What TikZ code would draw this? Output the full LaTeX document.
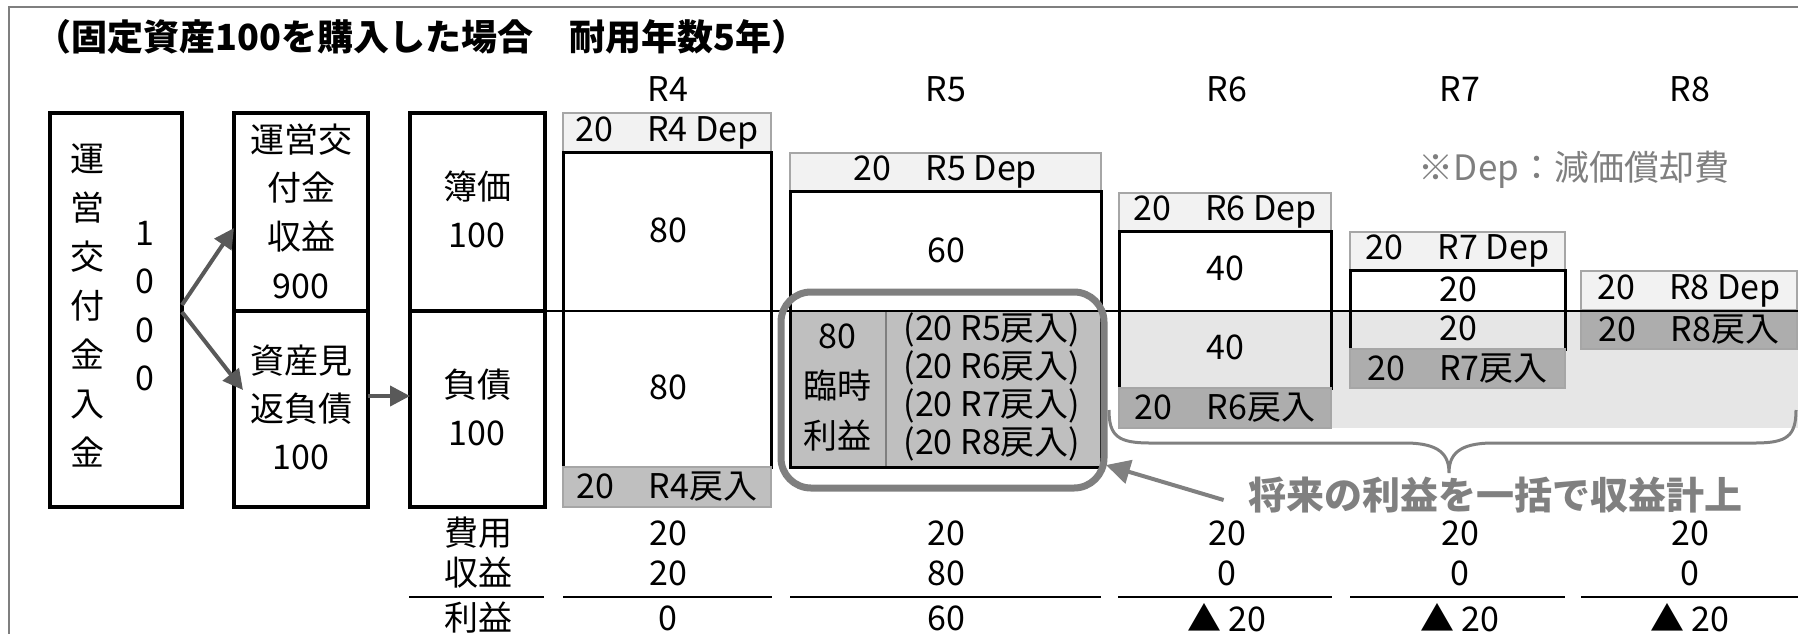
\documentclass[tikz,border=0pt]{standalone}
\usepackage{fontspec}
\setmainfont{Noto Sans CJK JP}
\usetikzlibrary{fit,arrows.meta}
\definecolor{frameG}{HTML}{7F7F7F}
\definecolor{arrG}{HTML}{595959}
\definecolor{depFill}{HTML}{F2F2F2}
\definecolor{depLine}{HTML}{A6A6A6}
\definecolor{modFill}{HTML}{BFBFBF}
\definecolor{modFillB}{HTML}{ADADAD}
\definecolor{bandFill}{HTML}{E6E6E6}
\definecolor{capG}{HTML}{808080}
\tikzset{
  t/.style={font=\fontsize{17pt}{20pt}\selectfont, inner sep=0pt},
  box/.style={draw=black, line width=1.8pt, inner sep=0pt, outer sep=0pt},
  colbox/.style={draw=black, line width=1.5pt, inner sep=0pt, outer sep=0pt},
  depbox/.style={draw=depLine, line width=1.2pt, fill=depFill, inner sep=0pt, outer sep=0pt},
  modbox/.style={draw=depLine, line width=1.2pt, fill=modFill, inner sep=0pt, outer sep=0pt},
  modboxb/.style={modbox, fill=modFillB},
  garrow/.style={draw=arrG, line width=2pt, -{Triangle[length=10pt,width=10pt]}},
  tline/.style={draw=black, line width=1.4pt},
}
\begin{document}
\begin{tikzpicture}[x=0.5pt,y=-0.5pt]
\useasboundingbox (0,0) rectangle (1798,633);
% frame
\draw[frameG, line width=1.2pt] (9,640) -- (9,7) -- (1800,7);
% title
\node[t, font=\bfseries\fontsize{18pt}{20pt}\selectfont, anchor=west] (title) at (35,37) {（固定資産100を購入した場合　耐用年数5年）};
% headers
\node[t] (h4) at (668,89) {R4};
\node[t] (h5) at (946,89) {R5};
\node[t] (h6) at (1227,89) {R6};
\node[t] (h7) at (1460,89) {R7};
\node[t] (h8) at (1690,89) {R8};
% left boxes
\node[box, fit={(50,113) (182,507)}] (b1) {};
\node[box, fit={(234,113) (368,311)}] (b2u) {};
\node[box, fit={(234,311) (368,507)}] (b2l) {};
\node[box, fit={(410,113) (545,311)}] (b3u) {};
\node[box, fit={(410,311) (545,507)}] (b3l) {};
\node[t, align=center, font=\fontsize{17pt}{24.5pt}\selectfont] (b1t) at (87,305.5) {運\\営\\交\\付\\金\\入\\金};
\node[t, align=center, font=\fontsize{17pt}{24.2pt}\selectfont] (b1n) at (145,306) {1\\0\\0\\0};
\node[t, align=center, font=\fontsize{17pt}{24.3pt}\selectfont] (b2ut) at (301,211) {運営交\\付金\\収益\\900};
\node[t, align=center, font=\fontsize{17pt}{24pt}\selectfont] (b2lt) at (301,407) {資産見\\返負債\\100};
\node[t, align=center, font=\fontsize{17pt}{24pt}\selectfont] (b3ut) at (477,209) {簿価\\100};
\node[t, align=center, font=\fontsize{17pt}{24pt}\selectfont] (b3lt) at (477,407) {負債\\100};
% arrows
\draw[garrow] ([yshift=2.5pt]b1.east) -- ([yshift=-8pt]b2u.west);
\draw[garrow] ([yshift=-1pt]b1.east) -- ([xshift=4.5pt,yshift=9.5pt]b2l.west);
\draw[garrow] ([yshift=6.5pt]b2l.east) -- ([yshift=6.5pt]b3l.west);
% band
\node[fill=bandFill, inner sep=0pt, outer sep=0pt, fit={(1119,311) (1798,428)}] (band) {};
% R4
\node[depbox, fit={(563,113) (771,152)}] (r4d) {};
\node[colbox, fit={(563,152) (771,467)}] (r4m) {};
\node[modbox, fit={(563,467) (771,507)}] (r4r) {};
\node[t] (r4dt) at (r4d.center) {20　R4 Dep};
\node[t] (r4rt) at (r4r.center) {20　R4戻入};
\node[t] (r4a) at (668,230) {80};
\node[t] (r4b) at (668,387) {80};
% R5
\node[depbox, fit={(790,153) (1101,191)}] (r5d) {};
\node[t] (r5dt) at (r5d.center) {20　R5 Dep};
\node[fill=modFill, inner sep=0pt, outer sep=0pt, fit={(790,311) (886,467)}] (r5ll) {};
\node[fill=modFill, inner sep=0pt, outer sep=0pt, fit={(886,311) (1101,467)}] (r5lr) {};
\draw[draw=frameG, line width=0.8pt] (r5ll.north east) -- (r5ll.south east);
\node[colbox, fit={(790,191) (1101,467)}] (r5m) {};
\node[t] (r5a) at (946,250) {60};
\node[t, align=center, font=\fontsize{17pt}{25pt}\selectfont] (r5lt) at (837,388) {80\\臨時\\利益};
\node[t, align=center, font=\fontsize{17pt}{19pt}\selectfont] (r5rt) at (992,387) {(20 R5戻入)\\(20 R6戻入)\\(20 R7戻入)\\(20 R8戻入)};
% R6
\node[depbox, fit={(1119,193) (1331,231)}] (r6d) {};
\node[colbox, fit={(1119,231) (1331,388)}] (r6m) {};
\node[modboxb, fit={(1119,388) (1331,428)}] (r6r) {};
\node[t] (r6dt) at (r6d.center) {20　R6 Dep};
\node[t] (r6rt) at (r6r.center) {20　R6戻入};
\node[t] (r6a) at (1225,268) {40};
\node[t] (r6b) at (1225,347) {40};
% R7
\node[depbox, fit={(1350,232) (1565,270)}] (r7d) {};
\node[colbox, fit={(1350,270) (1565,349)}] (r7m) {};
\node[modboxb, fit={(1350,349) (1565,388)}] (r7r) {};
\node[t] (r7dt) at (r7d.center) {20　R7 Dep};
\node[t] (r7rt) at (r7r.center) {20　R7戻入};
\node[t] (r7a) at (1458,289) {20};
\node[t] (r7b) at (1458,328) {20};
% R8
\node[depbox, fit={(1581,271) (1797,310)}] (r8d) {};
\node[modboxb, fit={(1581,310) (1797,349)}] (r8r) {};
\node[t] (r8dt) at (r8d.center) {20　R8 Dep};
\node[t] (r8rt) at (r8r.center) {20　R8戻入};
% long horizontal line
\coordinate (lineend) at (1798,311);
\draw[line width=1.4pt] (b3u.south east) -- (lineend);
% rounded highlight
\node[draw=frameG, line width=3.5pt, rounded corners=15pt, inner sep=0pt, outer sep=0pt, fit={(781,292) (1104,488)}] (rr) {};
% note
\node[t, text=frameG, font=\fontsize{17.5pt}{20pt}\selectfont] (note) at (1574,170) {※Dep：減価償却費};
% brace
\draw[capG, line width=1.5pt] (1109,410) .. controls (1109,436) and (1118,443) .. (1150,443) -- (1405,443) .. controls (1440,443) and (1449,455) .. (1449,473) .. controls (1449,455) and (1458,443) .. (1493,443) -- (1755,443) .. controls (1787,443) and (1796,436) .. (1796,410);
% caption
\node[t, font=\bfseries\fontsize{19pt}{22pt}\selectfont, text=capG] (cap) at (1495,495) {将来の利益を一括で収益計上};
\draw[capG, line width=2pt, -{Triangle[length=12pt,width=12pt]}] ([xshift=-12pt,yshift=-2.5pt]cap.west) -- ([xshift=1pt,yshift=-37.5pt]rr.east);
% table
\node[t] (l1) at (478,533) {費用};
\node[t] (l2) at (478,573) {収益};
\node[t] (l3) at (478,618) {利益};
\node[t] (v41) at (668,533) {20};
\node[t] (v42) at (668,573) {20};
\node[t] (v43) at (668,618) {0};
\node[t] (v51) at (946,533) {20};
\node[t] (v52) at (946,573) {80};
\node[t] (v53) at (946,618) {60};
\node[t] (v61) at (1227,533) {20};
\node[t] (v62) at (1227,573) {0};
\node[t] (v63) at (1227,618) {▲ 20};
\node[t] (v71) at (1460,533) {20};
\node[t] (v72) at (1460,573) {0};
\node[t] (v73) at (1460,618) {▲ 20};
\node[t] (v81) at (1690,533) {20};
\node[t] (v82) at (1690,573) {0};
\node[t] (v83) at (1690,618) {▲ 20};
\draw[tline] (409,597) -- (544,597);
\draw[tline] (563,597) -- (772,597);
\draw[tline] (790,597) -- (1101,597);
\draw[tline] (1118,597) -- (1332,597);
\draw[tline] (1350,597) -- (1565,597);
\draw[tline] (1581,597) -- (1798,597);
\end{tikzpicture}
\end{document}
